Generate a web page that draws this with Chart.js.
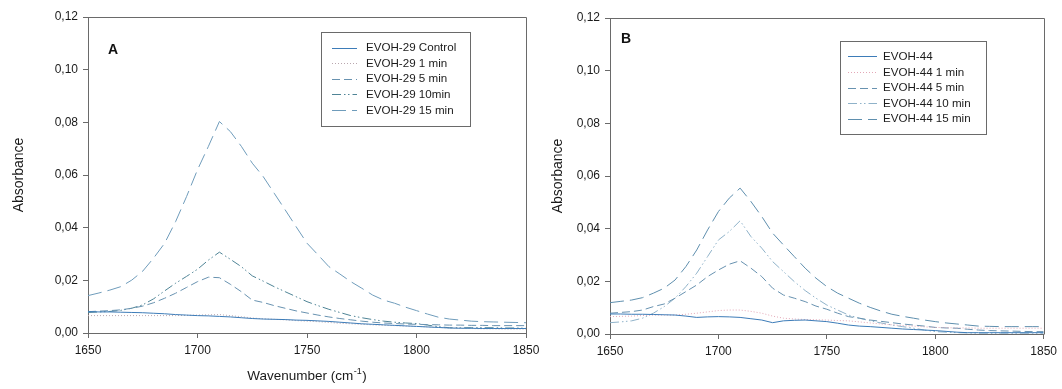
<!DOCTYPE html>
<html>
<head>
<meta charset="utf-8">
<script src="https://cdn.jsdelivr.net/npm/chart.js@4/dist/chart.umd.min.js"></script>
<style>
  html, body { margin: 0; padding: 0; background: #ffffff; }
  body { width: 1062px; height: 389px; position: relative; overflow: hidden; }
  .panel { position: absolute; top: 0; height: 389px; }
  #panelA { left: 0; width: 545px; }
  #panelB { left: 530px; width: 532px; }
</style>
</head>
<body>
<div class="panel" id="panelA"><canvas id="chartA"></canvas></div>
<div class="panel" id="panelB"><canvas id="chartB"></canvas></div>
<script>
// Wavenumber grid (cm-1)
const wavenumber = [1650,1655,1660,1665,1670,1675,1680,1685,1690,1695,1700,1705,1710,1715,1720,1725,1730,1735,1740,1745,1750,1755,1760,1765,1770,1775,1780,1785,1790,1795,1800,1805,1810,1815,1820,1825,1830,1835,1840,1845,1850];

// Panel A: EVOH-29 absorbance
const labelsA = ['EVOH-29 Control', 'EVOH-29 1 min', 'EVOH-29 5 min', 'EVOH-29 10min', 'EVOH-29 15 min'];
const evoh29Control = [.0081,.0080,.0080,.0079,.0078,.0077,.0075,.0073,.0070,.0068,.0066,.0065,.0063,.0061,.0058,.0055,.0053,.0052,.0051,.0049,.0048,.0046,.0044,.0041,.0038,.0035,.0033,.0031,.0029,.0027,.0025,.0023,.0021,.0019,.0018,.0018,.0017,.0017,.0017,.0017,.0017];
const evoh29Min1 = [.0066,.0066,.0066,.0066,.0066,.0066,.0066,.0066,.0066,.0067,.0068,.0069,.0070,.0066,.0062,.0057,.0054,.0052,.0050,.0047,.0045,.0043,.0040,.0037,.0035,.0033,.0031,.0029,.0028,.0026,.0025,.0023,.0021,.0019,.0018,.0017,.0016,.0016,.0015,.0015,.0015];
const evoh29Min5 = [.0081,.0083,.0085,.0088,.0094,.0102,.0115,.0132,.0151,.0173,.0195,.0212,.0210,.0185,.0157,.0125,.0116,.0104,.0094,.0084,.0076,.0068,.0061,.0055,.0050,.0045,.0041,.0038,.0036,.0034,.0033,.0032,.0031,.0030,.0030,.0029,.0029,.0028,.0028,.0028,.0028];
const evoh29Min10 = [.0078,.0080,.0082,.0086,.0094,.0107,.0130,.0160,.0189,.0215,.0242,.0277,.0307,.0280,.0252,.0217,.0197,.0176,.0157,.0138,.0119,.0104,.0090,.0078,.0066,.0058,.0051,.0045,.0041,.0038,.0036,.0030,.0024,.0020,.0020,.0020,.0020,.0020,.0019,.0019,.0018];
const evoh29Min15 = [.0142,.0152,.0163,.0176,.0201,.0235,.0285,.0341,.0423,.0518,.0620,.0709,.0803,.0765,.0709,.0645,.0594,.0531,.0468,.0404,.0341,.0297,.0252,.0224,.0195,.0170,.0144,.0125,.0113,.0098,.0085,.0072,.0060,.0053,.0049,.0045,.0043,.0042,.0041,.0040,.0039];

// Panel B: EVOH-44 absorbance
const labelsB = ['EVOH-44', 'EVOH-44 1 min', 'EVOH-44 5 min', 'EVOH-44 10 min', 'EVOH-44 15 min'];
const evoh44Control = [.0076,.0076,.0075,.0075,.0074,.0073,.0072,.0068,.0063,.0065,.0066,.0065,.0063,.0058,.0053,.0043,.0050,.0052,.0053,.0050,.0047,.0041,.0034,.0030,.0028,.0025,.0022,.0019,.0017,.0015,.0013,.0010,.0007,.0005,.0005,.0005,.0005,.0005,.0005,.0005,.0005];
const evoh44Min1 = [.0066,.0067,.0068,.0070,.0072,.0072,.0072,.0075,.0079,.0084,.0089,.0091,.0091,.0086,.0079,.0068,.0060,.0057,.0055,.0054,.0053,.0051,.0050,.0046,.0042,.0038,.0035,.0032,.0030,.0027,.0025,.0024,.0023,.0023,.0022,.0022,.0022,.0022,.0022,.0022,.0022];
const evoh44Min5 = [.0079,.0082,.0085,.0091,.0104,.0114,.0136,.0161,.0186,.0218,.0243,.0265,.0278,.0250,.0218,.0174,.0148,.0136,.0123,.0106,.0094,.0079,.0066,.0060,.0053,.0048,.0043,.0038,.0034,.0030,.0025,.0023,.0022,.0018,.0015,.0013,.0012,.0011,.0010,.0009,.0009];
const evoh44Min10 = [.0043,.0046,.0050,.0060,.0079,.0104,.0136,.0180,.0231,.0294,.0357,.0389,.0430,.0370,.0326,.0275,.0237,.0199,.0165,.0136,.0110,.0091,.0072,.0060,.0050,.0042,.0034,.0028,.0022,.0015,.0009,.0007,.0005,.0004,.0003,.0003,.0003,.0003,.0003,.0003,.0003];
const evoh44Min15 = [.0119,.0124,.0129,.0138,.0155,.0174,.0205,.0256,.0319,.0395,.0465,.0516,.0554,.0503,.0446,.0383,.0338,.0294,.0250,.0212,.0180,.0155,.0136,.0117,.0101,.0087,.0075,.0067,.0060,.0053,.0047,.0042,.0038,.0034,.0030,.0029,.0028,.0028,.0028,.0028,.0028];

// Axis ticks
const xTicks = [1650, 1700, 1750, 1800, 1850];
const yTicks = [0, 0.02, 0.04, 0.06, 0.08, 0.10, 0.12];

const FONT = "'Liberation Sans', Arial, sans-serif";

// Line styles shared by the five treatment times
const stylesA = [
  { color: '#3d7cb8', dash: [] },
  { color: '#b9a6ae', dash: [1, 2] },
  { color: '#6892b0', dash: [8, 4] },
  { color: '#4f8496', dash: [9, 3, 1.5, 2.5, 1.5, 3] },
  { color: '#6f9cbb', dash: [14, 6] }
];
const stylesB = [
  { color: '#3d7cb8', dash: [] },
  { color: '#e3a7b6', dash: [1, 2] },
  { color: '#6892b0', dash: [8, 4] },
  { color: '#8fb2c9', dash: [9, 3, 1.5, 2.5, 1.5, 3] },
  { color: '#5f8fae', dash: [14, 6] }
];

function makeDatasets(labels, seriesList, styles) {
  return seriesList.map((vals, i) => ({
    label: labels[i],
    data: wavenumber.map((w, j) => ({ x: w, y: vals[j] })),
    borderColor: styles[i].color,
    borderDash: styles[i].dash,
    borderWidth: 1,
    pointRadius: 0,
    tension: 0,
    fill: false
  }));
}

// Frame, legend box, panel letter and axis titles
const decorPlugin = {
  id: 'decor',
  afterDraw(chart, args, opts) {
    const ctx = chart.ctx;
    const a = chart.chartArea;
    ctx.save();
    // top and right sides of the plot frame
    ctx.strokeStyle = '#6a6a6a';
    ctx.lineWidth = 1;
    ctx.beginPath();
    ctx.moveTo(Math.round(a.left) + 0.5, Math.round(a.top) + 0.5);
    ctx.lineTo(Math.round(a.right) + 0.5, Math.round(a.top) + 0.5);
    ctx.lineTo(Math.round(a.right) + 0.5, Math.round(a.bottom) + 0.5);
    ctx.stroke();

    // panel letter
    ctx.fillStyle = '#111';
    ctx.font = 'bold 14px ' + FONT;
    ctx.textBaseline = 'middle';
    ctx.textAlign = 'left';
    ctx.fillText(opts.letter, opts.letterX, opts.letterY);

    // legend
    const L = opts.legend;
    ctx.strokeStyle = '#6a6a6a';
    ctx.strokeRect(L.x + 0.5, L.y + 0.5, L.w, L.h);
    ctx.font = '11.6px ' + FONT;
    ctx.fillStyle = '#1a1a1a';
    chart.data.datasets.forEach((ds, i) => {
      const yy = L.firstRow + i * L.rowGap;
      ctx.save();
      ctx.strokeStyle = ds.borderColor;
      ctx.setLineDash(ds.borderDash || []);
      ctx.lineWidth = 1;
      ctx.beginPath();
      ctx.moveTo(L.sampleX0, Math.round(yy) + 0.5);
      ctx.lineTo(L.sampleX1, Math.round(yy) + 0.5);
      ctx.stroke();
      ctx.restore();
      ctx.fillText(ds.label, L.textX, yy + 0.5);
    });

    // y axis title
    ctx.save();
    ctx.font = '14px ' + FONT;
    ctx.fillStyle = '#1a1a1a';
    ctx.translate(opts.yTitleX, (a.top + a.bottom) / 2);
    ctx.rotate(-Math.PI / 2);
    ctx.textAlign = 'center';
    ctx.textBaseline = 'middle';
    ctx.fillText('Absorbance', 0, 0);
    ctx.restore();

    // x axis title with superscript
    if (opts.xTitle) {
      const main = 'Wavenumber (cm';
      const sup = '-1';
      const close = ')';
      ctx.textBaseline = 'alphabetic';
      ctx.textAlign = 'left';
      ctx.font = '13.5px ' + FONT;
      const wMain = ctx.measureText(main).width;
      const wClose = ctx.measureText(close).width;
      ctx.font = '9px ' + FONT;
      const wSup = ctx.measureText(sup).width;
      const total = wMain + wSup + 1 + wClose;
      let x0 = (a.left + a.right) / 2 - total / 2;
      const base = opts.xTitleY;
      ctx.fillStyle = '#1a1a1a';
      ctx.font = '13.5px ' + FONT;
      ctx.fillText(main, x0, base);
      ctx.font = '9px ' + FONT;
      ctx.fillText(sup, x0 + wMain + 0.5, base - 6);
      ctx.font = '13.5px ' + FONT;
      ctx.fillText(close, x0 + wMain + wSup + 1, base);
    }
    ctx.restore();
  }
};

function makeChart(canvasId, datasets, layout, decor) {
  const tickFont = { family: FONT, size: 12 };
  return new Chart(document.getElementById(canvasId), {
    type: 'line',
    data: { datasets },
    plugins: [decorPlugin],
    options: {
      responsive: true,
      maintainAspectRatio: false,
      animation: false,
      events: [],
      layout: { padding: layout.padding },
      plugins: {
        legend: { display: false },
        tooltip: { enabled: false },
        decor
      },
      scales: {
        x: {
          type: 'linear',
          min: xTicks[0],
          max: xTicks[xTicks.length - 1],
          afterBuildTicks: (s) => { s.ticks = xTicks.map(v => ({ value: v })); },
          afterFit: (s) => { s.height = layout.xHeight; },
          ticks: {
            callback: (v) => String(v),
            color: '#1a1a1a',
            font: tickFont,
            padding: 5,
            maxRotation: 0,
            autoSkip: false
          },
          grid: { display: true, drawOnChartArea: false, drawTicks: true, tickLength: 5, color: '#6a6a6a', lineWidth: 1 },
          border: { display: true, color: '#6a6a6a', width: 1 }
        },
        y: {
          type: 'linear',
          min: yTicks[0],
          max: yTicks[yTicks.length - 1],
          afterBuildTicks: (s) => { s.ticks = yTicks.map(v => ({ value: v })); },
          afterFit: (s) => { s.width = layout.yWidth; },
          ticks: {
            callback: (v) => Number(v).toFixed(2).replace('.', ','),
            color: '#1a1a1a',
            font: tickFont,
            padding: 5,
            autoSkip: false
          },
          grid: { display: true, drawOnChartArea: false, drawTicks: true, tickLength: 5, color: '#6a6a6a', lineWidth: 1 },
          border: { display: true, color: '#6a6a6a', width: 1 }
        }
      }
    }
  });
}

makeChart('chartA',
  makeDatasets(labelsA, [evoh29Control, evoh29Min1, evoh29Min5, evoh29Min10, evoh29Min15], stylesA),
  { padding: { left: 0, right: 19, top: 17, bottom: 0 }, xHeight: 56, yWidth: 88 },
  {
    letter: 'A', letterX: 108, letterY: 50,
    yTitleX: 19, xTitle: true, xTitleY: 380,
    legend: { x: 321, y: 32, w: 149, h: 94, firstRow: 47.5, rowGap: 15.6, sampleX0: 332, sampleX1: 357, textX: 366 }
  });

makeChart('chartB',
  makeDatasets(labelsB, [evoh44Control, evoh44Min1, evoh44Min5, evoh44Min10, evoh44Min15], stylesB),
  { padding: { left: 0, right: 15, top: 18, bottom: 0 }, xHeight: 55, yWidth: 80 },
  {
    letter: 'B', letterX: 91, letterY: 39,
    yTitleX: 28, xTitle: false,
    legend: { x: 310, y: 41, w: 146, h: 93, firstRow: 56.3, rowGap: 15.6, sampleX0: 318, sampleX1: 347, textX: 353 }
  });
</script>
</body>
</html>
